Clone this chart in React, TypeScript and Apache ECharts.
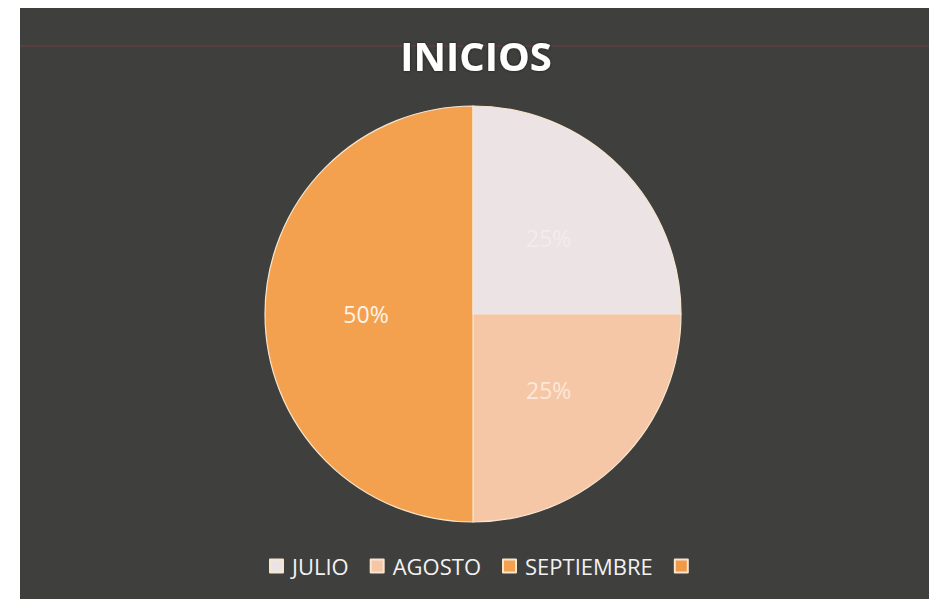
import React, { useEffect, useRef } from "react";
import * as echarts from "echarts";

const categories = ["JULIO", "AGOSTO", "SEPTIEMBRE", " "];
const values = [25, 25, 50, 0];
const sliceColors = ["#ece4e4", "#f6c7a6", "#f4a14f", "#f09a48"];
const labelColors = ["#f2ecec", "#fbe8da", "#fbf3ea", "#ffffff"];

export default function App() {
  const ref = useRef<HTMLDivElement>(null);
  useEffect(() => {
    if (!ref.current) return;
    const chart = echarts.init(ref.current, null, { renderer: "svg" });
    chart.setOption({
      animation: false,
      backgroundColor: "#ffffff",
      graphic: [
        {
          type: "rect",
          shape: { x: 20, y: 8, width: 909, height: 591 },
          style: { fill: "#3f3f3d" },
          z: -10,
          silent: true,
        },
        {
          type: "line",
          shape: { x1: 20, y1: 46, x2: 929, y2: 46 },
          style: { stroke: "rgba(150,70,70,0.35)", lineWidth: 1.5 },
          z: -9,
          silent: true,
        },
      ],
      title: {
        text: "INICIOS",
        left: 471,
        textAlign: "center",
        top: 30,
        textStyle: {
          color: "#ffffff",
          fontFamily: "Open Sans",
          fontWeight: "bold",
          fontSize: 40,
          textShadowColor: "rgba(0,0,0,0.6)",
          textShadowBlur: 3,
        },
      },
      legend: {
        data: categories,
        left: 264,
        top: 550,
        itemWidth: 13,
        itemHeight: 13,
        itemGap: 21,
        icon: "rect",
        textStyle: {
          color: "#f2f2f2",
          fontFamily: "Open Sans",
          fontSize: 22,
          padding: [0, 0, 0, 4],
        },
      },
      series: [
        {
          type: "pie",
          center: [473, 314],
          radius: 208,
          startAngle: 90,
          clockwise: true,
          avoidLabelOverlap: false,
          itemStyle: { borderColor: "#f7e6cf", borderWidth: 1.2 },
          label: {
            show: true,
            position: "inside",
            formatter: "{d}%",
            fontFamily: "Open Sans",
            fontSize: 23,
          },
          labelLine: { show: false },
          emphasis: { disabled: true },
          data: categories.map((name, i) => ({
            name,
            value: values[i],
            itemStyle: { color: sliceColors[i] },
            label: { color: labelColors[i], show: values[i] > 0 },
          })),
        },
      ],
    });
    return () => chart.dispose();
  }, []);
  return (
    <div
      ref={ref}
      style={{ position: "fixed", left: 0, top: 0, width: 937, height: 599 }}
    />
  );
}
